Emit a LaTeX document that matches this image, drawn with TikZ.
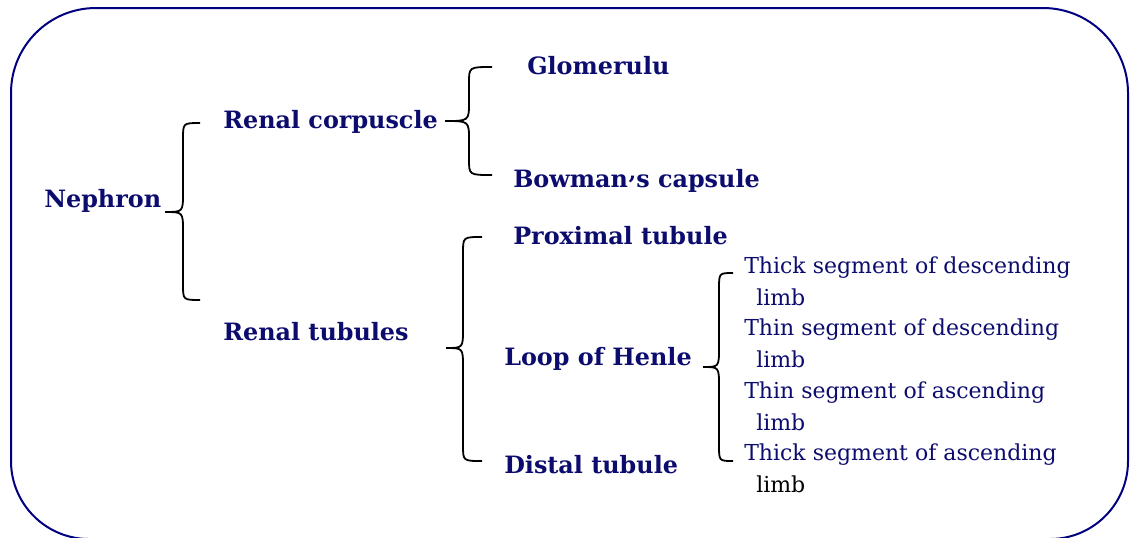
\documentclass[tikz,border=0pt]{standalone}
\usepackage{fontspec}
\setmainfont{DejaVu Serif}
\definecolor{navytext}{RGB}{12,12,110}
\definecolor{navybox}{RGB}{0,0,128}
\tikzset{
  boxline/.style={draw=navybox, line width=1.5pt},
  bracestyle/.style={draw=black, line width=1.35pt},
  headlabel/.style={anchor=base west, inner sep=0pt, text=navytext, font=\fontsize{17.9}{20}\selectfont\bfseries},
  leaflabel/.style={anchor=base west, inner sep=0pt, text=navytext, align=left, font=\fontsize{16.5}{23.6}\selectfont},
}
\newcommand\mybrace[6]{%
  \draw[bracestyle] (#1,#2) .. controls (#3,#2) .. (#3,{#2+16}) -- (#3,{#5-19})
    .. controls (#3,#5) .. (#4,#5) .. controls (#3,#5) .. (#3,{#5+19})
    -- (#3,{#6-16}) .. controls (#3,#6) .. (#1,#6);}
\begin{document}
\begin{tikzpicture}[x=0.75pt,y=-0.75pt]
\useasboundingbox (0,0) rectangle (1131,537);
\clip (0,0) rectangle (1131,537);
\draw[boxline] (11,300) [rounded corners=63.75pt] -- (11,8) -- (1128,8) -- (1128,300)
  [rounded corners=58.5pt] -- (1128,539) -- (11,539) -- cycle;

\node[headlabel] (nephron) at (44,207) {Nephron};
\node[headlabel] (corpuscle) at (223,128) {Renal corpuscle};
\node[headlabel] (glom) at (527,74) {Glomerulu};
\node[headlabel] (bowman) at (513,187) {Bowman\raisebox{-0.55ex}{’}s capsule};
\node[headlabel] (proximal) at (513,244) {Proximal tubule};
\node[headlabel] (tubules) at (223,340) {Renal tubules};
\node[headlabel] (henle) at (504,365) {Loop of Henle};
\node[headlabel] (distal) at (504,473) {Distal tubule};

\node[leaflabel] (thickdesc) at (744,305) {Thick segment of descending\\\hspace*{9pt}limb};
\node[leaflabel] (thindesc) at (744,367) {Thin segment of descending\\\hspace*{9pt}limb};
\node[leaflabel] (thinasc) at (744,430) {Thin segment of ascending\\\hspace*{9pt}limb};
\node[leaflabel] (thickasc) at (744,492) {Thick segment of ascending\\\hspace*{9pt}\textcolor{black}{limb}};

\mybrace{200}{123}{183}{165}{212}{300}
\mybrace{492}{67}{469}{445}{121}{175}
\mybrace{482}{237}{463}{446}{348}{461}
\mybrace{733}{273}{719}{703}{367}{461}
\end{tikzpicture}
\end{document}
